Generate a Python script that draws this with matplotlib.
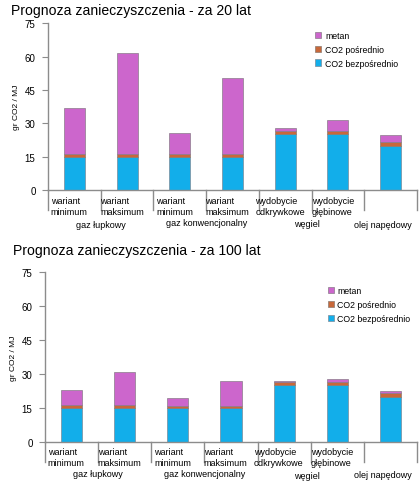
import numpy as np
import matplotlib
matplotlib.use("Agg")
import matplotlib.pyplot as plt
from matplotlib.patches import Patch

plt.rcParams['font.family'] = ['Liberation Sans', 'DejaVu Sans']

# dane (gr CO2 / MJ)
kategorie = ["wariant\nminimum", "wariant\nmaksimum", "wariant\nminimum", "wariant\nmaksimum",
             "wydobycie\nodkrywkowe", "wydobycie\ngłębinowe", ""]
grupy = ["gaz łupkowy", "gaz konwencjonalny", "węgiel", "olej napędowy"]
co2_bezposrednio = [14.8, 14.8, 14.8, 14.8, 25.0, 25.0, 19.8]
co2_posrednio = [1.6, 1.6, 1.2, 1.2, 1.6, 1.4, 1.9]
metan_20 = [20.5, 45.2, 9.8, 34.4, 1.1, 5.2, 2.9]
metan_100 = [6.7, 14.4, 3.2, 11.0, 0.3, 1.4, 0.9]
tytuly = ["Prognoza zanieczyszczenia - za 20 lat", "Prognoza zanieczyszczenia - za 100 lat"]
yticks = [0, 15, 30, 45, 60, 75]

c_blue = "#12aeea"
c_orange = "#c8683a"
c_mag = "#cc66cc"
c_grid = "#8c8c8c"

W, H = 419, 489
fig = plt.figure(figsize=(W / 100, H / 100), dpi=100)

# [left, right, top, bottom] w pikselach
boxes = [(48, 417, 24.3, 191), (45, 417, 272.7, 443)]
title_pos = [(11, 15), (13, 255)]
# pozycje grup (x w jednostkach danych, y piksele pod osią)
grupy_x = [0.5, 2.5, 4.42, 5.85]
grupy_dy = [[34, 32.3, 33.3, 34.7], [32, 31.5, 34, 33]]
wiersz_dy = [15.7, 15.0]
legend_pos = [(0.715, 0.975), (0.75, 0.935)]

x = np.arange(len(kategorie))
for k, metan in enumerate([metan_20, metan_100]):
    l, r, t, b = boxes[k]
    ax = fig.add_axes([l / W, 1 - b / H, (r - l) / W, (b - t) / H])
    hpx = b - t
    bot2 = np.array(co2_bezposrednio) + np.array(co2_posrednio)
    ax.bar(x, co2_bezposrednio, width=0.4, color=c_blue, edgecolor="#7a8a99", linewidth=0.5)
    ax.bar(x, co2_posrednio, width=0.4, bottom=co2_bezposrednio, color=c_orange,
           edgecolor="#8a7a70", linewidth=0.5)
    ax.bar(x, metan, width=0.4, bottom=bot2, color=c_mag, edgecolor="#8a7a8a", linewidth=0.5)

    ax.set_xlim(-0.5, 6.5)
    ax.set_ylim(0, 75)
    ax.set_yticks(yticks)
    ax.set_xticks([])
    for s in ["top", "right"]:
        ax.spines[s].set_visible(False)
    for s in ["left", "bottom"]:
        ax.spines[s].set_color(c_grid)
        ax.spines[s].set_linewidth(1.0)
    ax.tick_params(axis="y", direction="out", length=4, color=c_grid, labelsize=7, pad=5)
    ax.set_ylabel("gr CO2 / MJ", fontsize=6, labelpad=3)

    tr = ax.get_xaxis_transform()
    for xs in np.arange(-0.5, 7, 1.0):
        ax.plot([xs, xs], [0, -20 / hpx], transform=tr, color=c_grid, lw=1.0, clip_on=False)
    for i, lab in enumerate(kategorie):
        ax.text(i - 0.1, -wiersz_dy[k] / hpx, lab, transform=tr, ha="center", va="center",
                multialignment="left", fontsize=6.5, linespacing=1.3)
    for g, gx in enumerate(grupy_x):
        ax.text(gx, -grupy_dy[k][g] / hpx, grupy[g], transform=tr, ha="center", va="center",
                fontsize=6.5)

    handles = [Patch(facecolor=c_mag, edgecolor="#8a7a8a", lw=0.5, label="metan"),
               Patch(facecolor=c_orange, edgecolor="#8a7a70", lw=0.5, label="CO2 pośrednio"),
               Patch(facecolor=c_blue, edgecolor="#7a8a99", lw=0.5, label="CO2 bezpośrednio")]
    ax.legend(handles=handles, loc="upper left", bbox_to_anchor=legend_pos[k], frameon=False,
              fontsize=6.3, handlelength=0.7, handleheight=0.7, handletextpad=0.4,
              labelspacing=0.55, borderaxespad=0)

    tx, ty = title_pos[k]
    fig.text(tx / W, 1 - ty / H, tytuly[k], fontsize=10.1, ha="left", va="baseline")

fig.savefig("out.png", dpi=100)
